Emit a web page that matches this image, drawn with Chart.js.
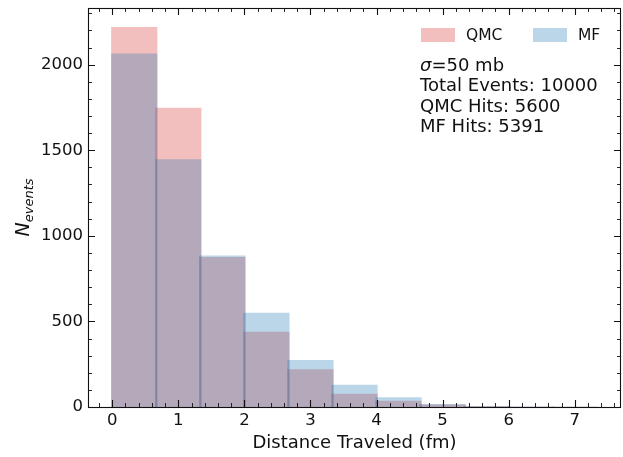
<!DOCTYPE html>
<html>
<head>
<meta charset="utf-8">
<script src="https://cdn.jsdelivr.net/npm/chart.js@4/dist/chart.umd.min.js"></script>
<style>
  body { margin: 0; background: #fff; }
  canvas { display: block; }
</style>
</head>
<body>
<canvas id="histChart" width="623" height="457"></canvas>
<script>
// bin centres (fm), bins are 2/3 fm wide
const binCenters = [0.333, 1, 1.667, 2.333, 3, 3.667, 4.333, 5, 5.667, 6.333, 7];
const qmcCounts = [2220, 1748, 876, 439, 221, 78, 36, 14, 5, 2, 1];
const mfCounts = [2065, 1447, 885, 550, 274, 130, 57, 18, 6, 3, 1];
const xTicks = [0, 1, 2, 3, 4, 5, 6, 7];
const yTicks = [0, 500, 1000, 1500, 2000];
const infoLines = ['=50 mb', 'Total Events: 10000', 'QMC Hits: 5600', 'MF Hits: 5391'];

const FONT = "'DejaVu Sans', 'Liberation Sans', sans-serif";
const INK = '#111';

const toPoints = (vals) => binCenters.map((c, i) => ({ x: c, y: vals[i] }));

// matplotlib-ish frame: inward ticks on all four sides, minor ticks
const framePlugin = {
  id: 'frame',
  afterDatasetsDraw(chart) {
    const { ctx, chartArea: a, scales: { x, y } } = chart;
    ctx.save();
    ctx.strokeStyle = INK;

    const xt = (v, len) => {
      const p = Math.round(x.getPixelForValue(v)) + 0.5;
      ctx.beginPath();
      ctx.moveTo(p, a.bottom); ctx.lineTo(p, a.bottom - len);
      ctx.moveTo(p, a.top); ctx.lineTo(p, a.top + len);
      ctx.stroke();
    };
    const yt = (v, len) => {
      const p = Math.round(y.getPixelForValue(v)) + 0.5;
      ctx.beginPath();
      ctx.moveTo(a.left, p); ctx.lineTo(a.left + len, p);
      ctx.moveTo(a.right, p); ctx.lineTo(a.right - len, p);
      ctx.stroke();
    };

    ctx.lineWidth = 0.9;
    for (let k = -1; k <= 38; k++) {
      if (k % 5 !== 0) xt(k * 0.2, 4);
    }
    for (let k = 1; k <= 23; k++) {
      if (k % 5 !== 0) yt(k * 100, 4);
    }
    ctx.lineWidth = 1.1;
    xTicks.forEach(v => xt(v, 7));
    yTicks.forEach(v => yt(v, 7));

    ctx.lineWidth = 1.1;
    ctx.strokeRect(Math.round(a.left) + 0.5, Math.round(a.top) + 0.5,
      Math.round(a.right - a.left) - 1, Math.round(a.bottom - a.top));
    ctx.restore();
  },
  afterDraw(chart) {
    const { ctx, chartArea: a } = chart;
    ctx.save();
    ctx.fillStyle = INK;

    // x title
    ctx.font = `18px ${FONT}`;
    ctx.textAlign = 'center';
    ctx.textBaseline = 'alphabetic';
    ctx.fillText('Distance Traveled (fm)', (a.left + a.right) / 2, 448);

    // y title: N_events
    ctx.save();
    ctx.translate(29, (a.top + a.bottom) / 2);
    ctx.rotate(-Math.PI / 2);
    ctx.textAlign = 'left';
    ctx.font = `italic 19px ${FONT}`;
    const wN = ctx.measureText('N').width;
    ctx.font = `italic 13px ${FONT}`;
    const wS = ctx.measureText('events').width;
    const x0 = -(wN + wS) / 2;
    ctx.font = `italic 19px ${FONT}`;
    ctx.fillText('N', x0, 0);
    ctx.font = `italic 13px ${FONT}`;
    ctx.fillText('events', x0 + wN, 4);
    ctx.restore();

    // legend
    ctx.font = `15.5px ${FONT}`;
    ctx.textAlign = 'left';
    ctx.textBaseline = 'middle';
    const legendX = [421, 533];
    chart.data.datasets.forEach((ds, i) => {
      ctx.fillStyle = ds.backgroundColor;
      ctx.fillRect(legendX[i], 28, 34, 14);
      ctx.fillStyle = INK;
      ctx.fillText(ds.label, legendX[i] + 45, 35.5);
    });

    // info block
    ctx.textBaseline = 'alphabetic';
    ctx.font = `italic 18px ${FONT}`;
    ctx.fillText('σ', 420, 71);
    const ws = ctx.measureText('σ').width;
    ctx.font = `18px ${FONT}`;
    ctx.fillText(infoLines[0], 420 + ws, 71);
    for (let i = 1; i < infoLines.length; i++) {
      ctx.fillText(infoLines[i], 420, 71 + i * 20.3);
    }
    ctx.restore();
  }
};

new Chart(document.getElementById('histChart'), {
  type: 'bar',
  data: {
    datasets: [
      {
        label: 'QMC',
        data: toPoints(qmcCounts),
        backgroundColor: 'rgba(214, 39, 40, 0.3)',
        order: 1
      },
      {
        label: 'MF',
        data: toPoints(mfCounts),
        backgroundColor: 'rgba(31, 119, 180, 0.3)',
        order: 0
      }
    ]
  },
  options: {
    responsive: false,
    animation: false,
    layout: { padding: { left: 0, right: 2, top: 8, bottom: 0 } },
    datasets: {
      bar: {
        grouped: false,
        barPercentage: 1.05,
        categoryPercentage: 1.0,
        borderWidth: 0
      }
    },
    scales: {
      x: {
        type: 'linear',
        offset: false,
        min: -0.367,
        max: 7.7,
        grid: { display: false, drawTicks: false, offset: false },
        border: { display: false },
        ticks: {
          padding: 4,
          color: INK,
          font: { family: FONT, size: 16.5 }
        },
        afterBuildTicks: s => { s.ticks = xTicks.map(v => ({ value: v })); },
        afterFit: s => { s.height = 50; s.paddingLeft = 0; s.paddingRight = 0; }
      },
      y: {
        min: 0,
        max: 2331,
        grid: { display: false, drawTicks: false },
        border: { display: false },
        ticks: {
          padding: 5,
          color: INK,
          font: { family: FONT, size: 16.5 },
          callback: v => String(v)
        },
        afterBuildTicks: s => { s.ticks = yTicks.map(v => ({ value: v })); },
        afterFit: s => { s.width = 88; s.paddingTop = 0; s.paddingBottom = 0; }
      }
    },
    plugins: {
      legend: { display: false },
      tooltip: { enabled: false }
    }
  },
  plugins: [framePlugin]
});
</script>
</body>
</html>
